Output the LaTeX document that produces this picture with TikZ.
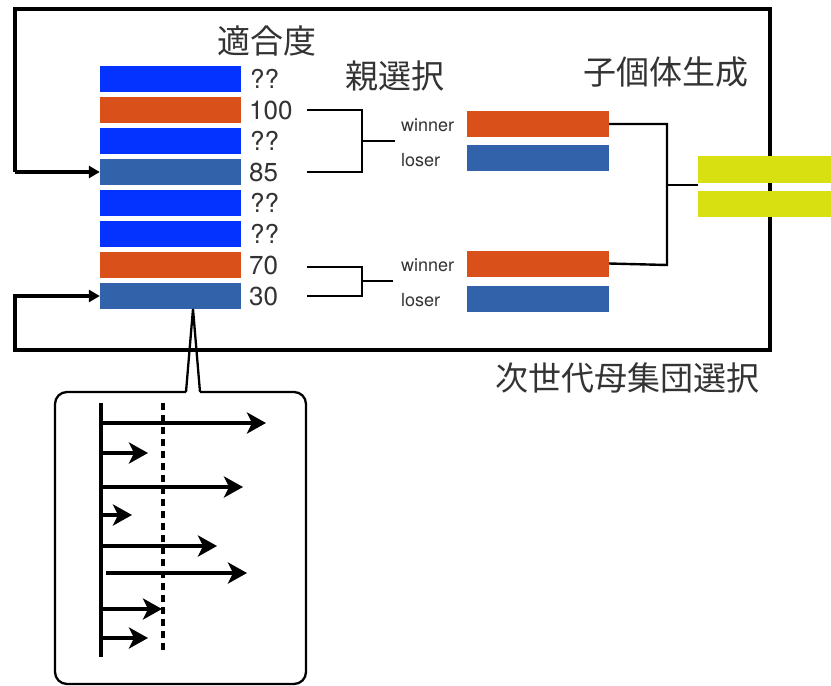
\documentclass[tikz,border=0pt]{standalone}
\usepackage{fontspec}
\setmainfont{TeX Gyre Heros}
\newfontfamily\cjk{Noto Sans CJK JP}
\usetikzlibrary{arrows.meta}
\definecolor{bblue}{HTML}{0433FF}
\definecolor{sblue}{HTML}{3162AA}
\definecolor{oran}{HTML}{D9501B}
\definecolor{ylw}{HTML}{D8E012}
\definecolor{txt}{HTML}{333333}
\begin{document}
\begin{tikzpicture}[x=1pt,y=-1pt,
  bar/.style={rectangle,inner sep=0pt,minimum width=141pt,minimum height=26pt},
  num/.style={anchor=west,inner sep=0pt,text=txt,font=\fontsize{26}{26}\selectfont},
  wl/.style={anchor=west,inner sep=0pt,text=txt,font=\fontsize{18}{18}\selectfont},
  ttl/.style={inner sep=0pt,text=txt,font=\cjk\fontsize{33}{33}\selectfont},
  frame/.style={line width=3.4pt},
  conn/.style={line width=2.6pt},
  tip/.style={-{Triangle[length=11pt,width=12pt]}},
  parr/.style={line width=3.6pt,-{Stealth[length=19pt,width=21pt,inset=5pt]}}]
\useasboundingbox (0,0) rectangle (831,686);
% population bars
\node[bar,fill=bblue] (b1) at (170.5,79) {};
\node[bar,fill=oran] (b2) at (170.5,110) {};
\node[bar,fill=bblue] (b3) at (170.5,141) {};
\node[bar,fill=sblue] (b4) at (170.5,172) {};
\node[bar,fill=bblue] (b5) at (170.5,203) {};
\node[bar,fill=bblue] (b6) at (170.5,234) {};
\node[bar,fill=oran] (b7) at (170.5,265) {};
\node[bar,fill=sblue] (b8) at (170.5,296) {};
% fitness labels
\node[num] (n1) at (250,79) {??};
\node[num] (n2) at (249,110) {100};
\node[num] (n3) at (250,141) {??};
\node[num] (n4) at (249,172) {85};
\node[num] (n5) at (250,203) {??};
\node[num] (n6) at (250,234) {??};
\node[num] (n7) at (249,265) {70};
\node[num] (n8) at (249,296) {30};
% titles
\node[ttl] (t1) at (267,41) {適合度};
\node[ttl] (t2) at (395,76) {親選択};
\node[ttl] (t3) at (666,72) {子個体生成};
\node[ttl] (t4) at (627,378) {次世代母集団選択};
% winner / loser
\node[bar,fill=oran,minimum width=142pt] (w1) at (538,124) {};
\node[bar,fill=sblue,minimum width=142pt] (l1) at (538,158) {};
\node[bar,fill=oran,minimum width=142pt] (w2) at (538,263.5) {};
\node[bar,fill=sblue,minimum width=142pt] (l2) at (538,298.5) {};
\node[wl] (tw1) at (401,125) {winner};
\node[wl] (tl1) at (401,160) {loser};
\node[wl] (tw2) at (401,265) {winner};
\node[wl] (tl2) at (401,300) {loser};
% brackets
\coordinate (a1) at (307,110);
\coordinate (a2) at (307,172);
\coordinate (am) at (395,141);
\coordinate (c1) at (307,267);
\coordinate (c2) at (307,296);
\coordinate (cm) at (393,281);
\draw[conn] (a1) -- (362,110) -- (362,172) -- (a2);
\draw[conn] (362,141) -- (am);
\draw[conn] (c1) -- (362,267) -- (362,296) -- (c2);
\draw[conn] (362,281) -- (cm);
% main frame with feedback arrows
\draw[frame,tip] (15,172) -- (15,9) -- (770,9) -- (770,350) -- (15,350) -- (15,296) -- (b8.west);
\draw[frame,tip] (15,172) -- (b4.west);
% offspring
\node[bar,fill=ylw,minimum width=134pt,minimum height=27pt] (y1) at (765,169.5) {};
\node[bar,fill=ylw,minimum width=134pt,minimum height=26pt] (y2) at (765,204) {};
\draw[line width=2.4pt] (w1.east) -- (667,124) -- (667,265) -- (w2.east);
\draw[line width=2.4pt] (667,185) -- (y1.south west |- 0,185);
% callout
\coordinate (apex) at (193,309);
\draw[line width=2.3pt,line join=miter] (186,392) -- (apex) -- (200,392);
\draw[line width=2.3pt,rounded corners=12pt] (200,392) -- (306,392) -- (306,684) -- (55,684) -- (55,392) -- (186,392);
% callout content
\coordinate (v1) at (101,403);
\coordinate (v2) at (101,657);
\draw[line width=3.6pt] (v1) -- (v2);
\draw[line width=3.6pt,dash pattern=on 7pt off 5pt] (163,403) -- (163,652);
\draw[parr] (101,423) -- (266,423);
\draw[parr] (101,453) -- (148,453);
\draw[parr] (101,487) -- (243,487);
\draw[parr] (101,515) -- (132,515);
\draw[parr] (101,546) -- (217,546);
\draw[parr] (106,573) -- (247,573);
\draw[parr] (101,609) -- (162,609);
\draw[parr] (101,638) -- (148,638);
\end{tikzpicture}
\end{document}
